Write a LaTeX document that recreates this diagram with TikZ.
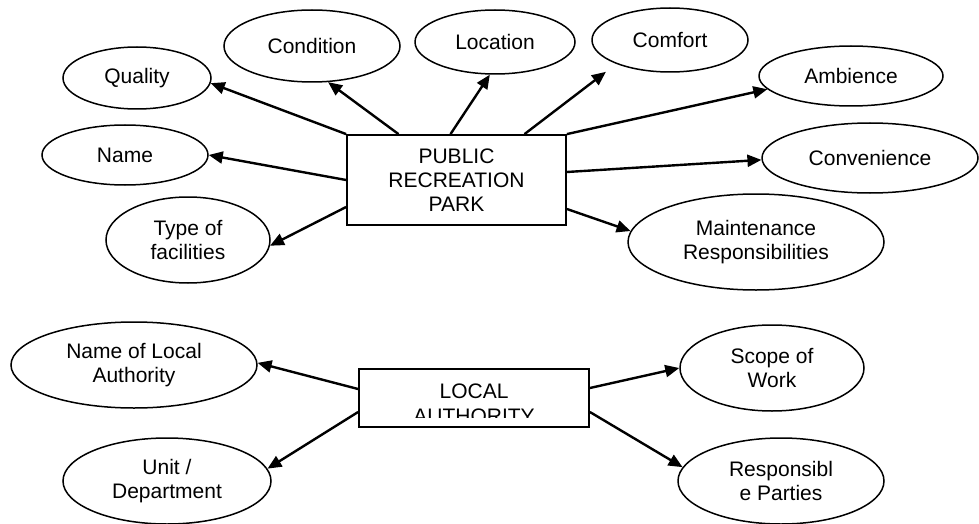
\documentclass[tikz,border=0pt]{standalone}
\usepackage{fontspec}
\setmainfont{Liberation Sans}
\usetikzlibrary{arrows.meta,shapes.geometric}
\newcommand{\labelfont}{\fontsize{21}{24.3}\selectfont}
\tikzset{
  attr/.style={draw, ellipse, line width=1.5pt, inner sep=0pt, align=center, font=\labelfont},
  entity/.style={draw, rectangle, line width=1.8pt, inner sep=0pt, align=center, font=\labelfont},
  link/.style={line width=2.4pt, -{Triangle[length=14pt,width=12pt]}}
}

\begin{document}
\begin{tikzpicture}[x=1pt, y=-1pt]
  \useasboundingbox (0,0) rectangle (979,524);
  % Park entity
  \node[entity, minimum width=219pt, minimum height=90pt] (park) at (456.5,180) {PUBLIC\\RECREATION\\PARK};
  % Park attributes
  \node[attr, minimum width=148pt, minimum height=62pt] (quality) at (137,78) {Quality};
  \node[attr, minimum width=176pt, minimum height=72pt] (condition) at (312,46) {Condition};
  \node[attr, minimum width=160pt, minimum height=64pt] (location) at (495,42) {Location};
  \node[attr, minimum width=156pt, minimum height=64pt] (comfort) at (670,40) {Comfort};
  \node[attr, minimum width=184pt, minimum height=60pt] (ambience) at (851,76) {Ambience};
  \node[attr, minimum width=216pt, minimum height=70pt] (convenience) at (870,158) {Convenience};
  \node[attr, minimum width=256pt, minimum height=96pt] (maint) at (756,242) {Maintenance\\Responsibilities};
  \node[attr, minimum width=166pt, minimum height=60pt] (name) at (125,155) {Name};
  \node[attr, minimum width=164pt, minimum height=86pt] (type) at (188,240) {Type of\\facilities};
  % Park arrows
  \draw[link] (park.north west) -- (quality.-4);
  \draw[link] ([xshift=-58pt]park.north) -- (condition.-66);
  \draw[link] ([xshift=-6pt]park.north) -- (location.-99);
  \draw[link, shorten >=13pt] ([xshift=68pt]park.north) -- (comfort.-156);
  \draw[link] (park.north east) -- (ambience.-171);
  \draw[link] ([yshift=8pt]park.east) -- (convenience.181);
  \draw[link] ([yshift=-29pt]park.east) -- (maint.175);
  \draw[link] (park.west) -- (name.east);
  \draw[link] ([yshift=-27pt]park.west) -- (type.-4);

  % Local authority entity (text cut off by the box)
  \node[entity, minimum width=230pt, minimum height=58pt] (la) at (474,398) {};
  \begin{scope}
    \clip (la.north west) rectangle ([yshift=10pt]la.south east);
    \node[font=\labelfont, align=center, anchor=north, inner sep=0pt] (latext) at ([yshift=-16pt]la.north) {LOCAL\\AUTHORITY};
  \end{scope}
  % Authority attributes
  \node[attr, minimum width=246pt, minimum height=86pt] (nla) at (134,365) {Name of Local\\Authority};
  \node[attr, minimum width=208pt, minimum height=86pt] (unit) at (167,481) {Unit /\\Department};
  \node[attr, minimum width=184pt, minimum height=86pt] (scope) at (772,368) {Scope of\\Work};
  \node[attr, minimum width=206pt, minimum height=86pt] (resp) at (781,481) {Responsibl\\e Parties};
  % Authority arrows
  \draw[link] ([yshift=9pt]la.west) -- (nla.1);
  \draw[link] ([yshift=-14pt]la.west) -- (unit.7);
  \draw[link] ([yshift=10pt]la.east) -- (scope.west);
  \draw[link] ([yshift=-14pt]la.east) -- (resp.172);
\end{tikzpicture}
\end{document}
